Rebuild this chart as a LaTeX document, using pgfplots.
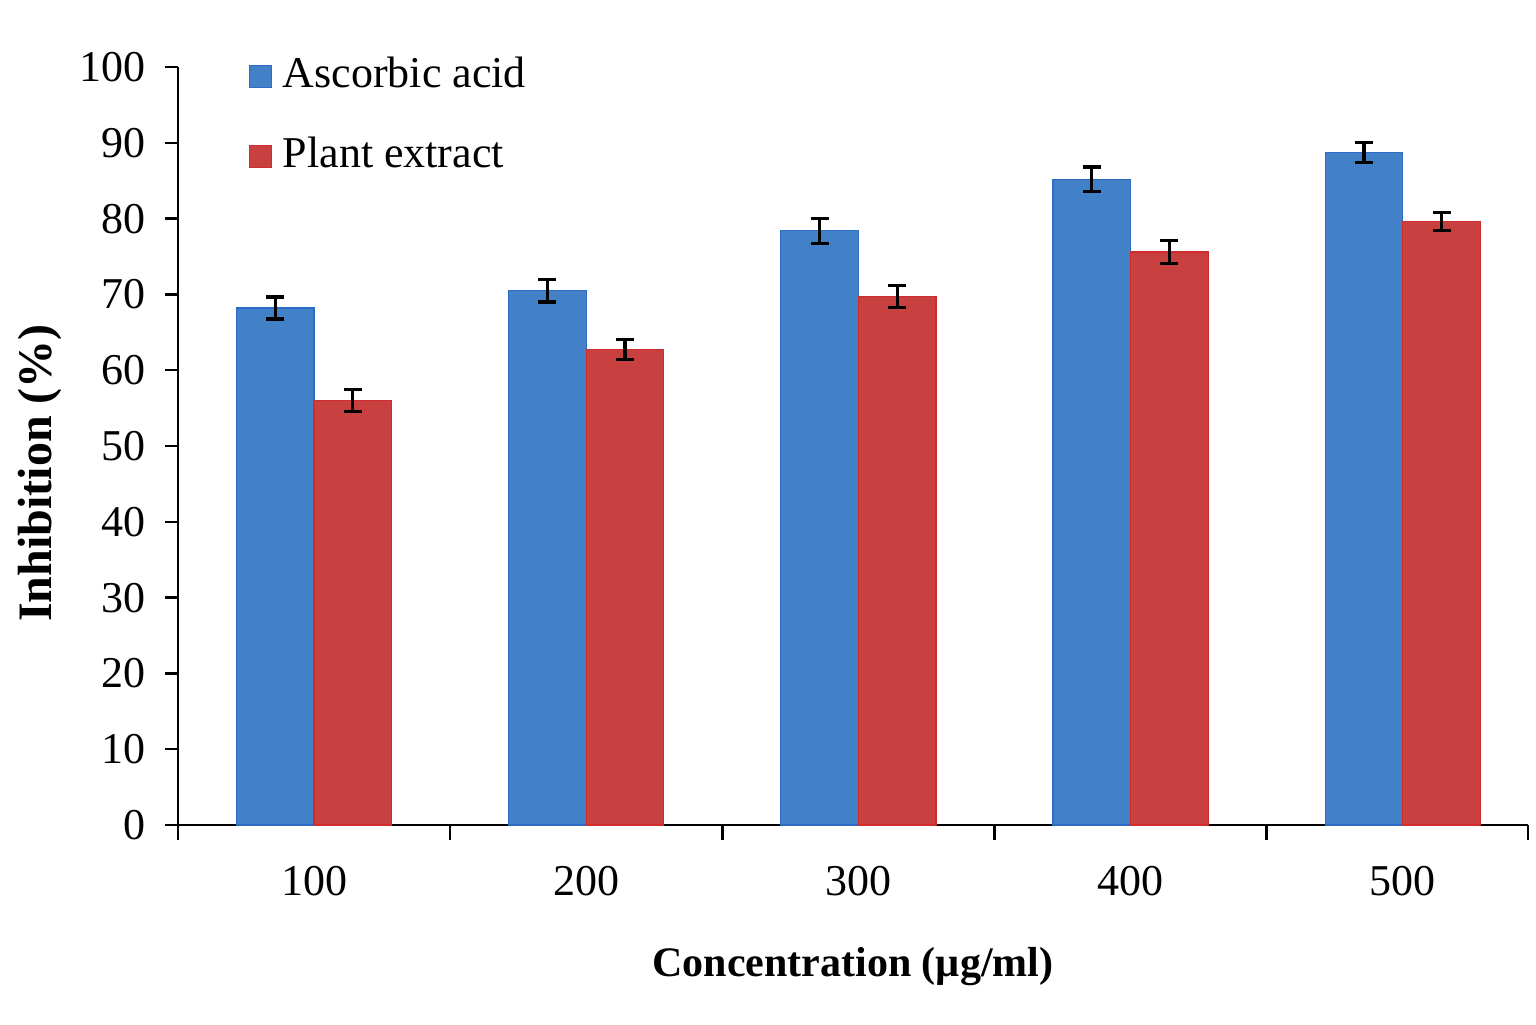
\documentclass[border=0pt]{standalone}
\usepackage{pgfplots}
\pgfplotsset{compat=1.18}
\usepackage{fontspec}
\setmainfont{Liberation Serif}
\definecolor{cblue}{HTML}{4280C8}
\definecolor{cblueedge}{HTML}{2C6CC4}
\definecolor{cred}{HTML}{C84040}
\definecolor{crededge}{HTML}{D02C2C}
\begin{document}
\begin{tikzpicture}
\begin{axis}[
  width=675pt, height=379pt, scale only axis,
  xmin=0.5, xmax=5.46, ymin=0, ymax=100,
  ybar=0pt, bar width=0.285,
  axis lines=left,
  axis line style={-, line width=1.25pt},
  tick align=outside,
  tick style={line width=1.25pt, black},
  ytick={0,10,...,100},
  xtick={1,2,3,4,5},
  xticklabels={100,200,300,400,500},
  minor xtick={0.5,1.5,2.5,3.5,4.5,5.46},
  major x tick style={draw=none},
  minor tick length=7.5pt,
  major tick length=6.5pt,
  ticklabel style={font=\fontsize{22}{26}\selectfont},
  /pgf/number format/assume math mode=true,
  xticklabel style={yshift=-10.5pt},
  yticklabel style={xshift=-6pt},
  xlabel={\bfseries Concentration (µg/ml)},
  ylabel={\bfseries Inhibition (\%)},
  xlabel style={font=\fontsize{21}{25}\selectfont, yshift=-19pt},
  ylabel style={font=\fontsize{24}{28}\selectfont, xshift=-13.5pt, yshift=2pt},
  legend style={draw=none, fill=none, at={(0.052,1)}, anchor=north west,
    font=\fontsize{22}{26}\selectfont, row sep=19pt, inner sep=0pt,
    nodes={inner sep=0pt, text height=16pt, text depth=5pt},
    /tikz/every odd column/.append style={column sep=5.5pt},
    yshift=6pt},
  legend cell align=left,
  clip=false,
]
\coordinate (O) at (rel axis cs:0,0);
\addplot[fill=cblue, draw=cblueedge, line width=0.6pt,
  legend image code/.code={\draw[fill=cblue,draw=cblueedge,line width=0.6pt] (0pt,-5.5pt) rectangle (11pt,5.5pt);},
  error bars/.cd, y dir=both, y explicit,
  error bar style={line width=1.6pt, black},
  error mark options={rotate=90, mark size=4.5pt, line width=1.6pt, black}]
  coordinates {(1,68.2) +- (0,1.45) (2,70.5) +- (0,1.5) (3,78.4) +- (0,1.65) (4,85.2) +- (0,1.6) (5,88.7) +- (0,1.3)};
\addlegendentry{Ascorbic acid}
\addplot[fill=cred, draw=crededge, line width=0.6pt,
  legend image code/.code={\draw[fill=cred,draw=crededge,line width=0.6pt] (0pt,-5.5pt) rectangle (11pt,5.5pt);},
  error bars/.cd, y dir=both, y explicit,
  error bar style={line width=1.6pt, black},
  error mark options={rotate=90, mark size=4.5pt, line width=1.6pt, black}]
  coordinates {(1,56.0) +- (0,1.45) (2,62.7) +- (0,1.3) (3,69.7) +- (0,1.45) (4,75.6) +- (0,1.5) (5,79.6) +- (0,1.2)};
\addlegendentry{Plant extract}
\end{axis}
\pgfresetboundingbox
\path[use as bounding box] ([shift={(-89pt,-99.5pt)}]O) rectangle ++(768pt,512pt);
\end{tikzpicture}
\end{document}
